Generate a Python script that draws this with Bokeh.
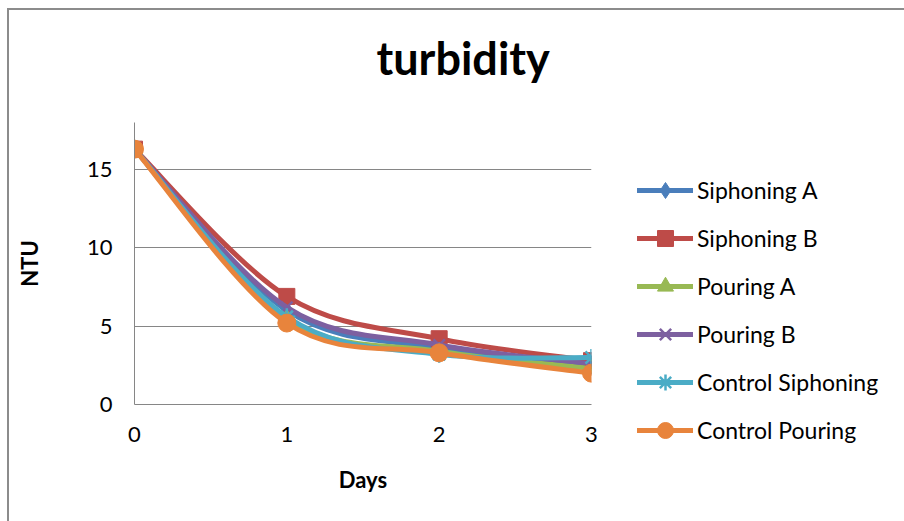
from bokeh.plotting import figure
from bokeh.models import Range1d, FixedTicker, Legend, LegendItem, ColumnDataSource, Title
from bokeh.embed import file_html
from bokeh.resources import INLINE

# Turbidity readings (NTU) over four days
days = [0, 1, 2, 3]
siphoning_a = [16.3, 6.0, 3.6, 2.5]
siphoning_b = [16.3, 6.9, 4.2, 2.8]
pouring_a = [16.3, 5.5, 3.4, 2.3]
pouring_b = [16.3, 6.2, 3.8, 2.6]
control_siphoning = [16.3, 5.6, 3.2, 3.0]
control_pouring = [16.3, 5.2, 3.3, 2.0]

series_names = ["Siphoning A", "Siphoning B", "Pouring A", "Pouring B",
                "Control Siphoning", "Control Pouring"]
series_values = [siphoning_a, siphoning_b, pouring_a, pouring_b,
                 control_siphoning, control_pouring]
colors = ["#4A7EBB", "#BE4B48", "#98B954", "#7D60A0", "#4BACC6", "#E8843C"]
markers = ["diamond", "square", "triangle", "x", "asterisk", "circle"]
marker_sizes = [18, 16, 16, 16, 17, 18]

y_ticks = [0, 5, 10, 15]
x_ticks = [0, 1, 2, 3]

FONT = "Lato"
GRAY = "#868686"


def smooth_segments(xs, ys, tension=1 / 6):
    """Cubic Bezier pieces (Catmull-Rom style) passing through each point."""
    n = len(xs)
    seg = dict(x0=[], y0=[], x1=[], y1=[], cx0=[], cy0=[], cx1=[], cy1=[])
    for i in range(n - 1):
        a = max(i - 1, 0)
        b = min(i + 2, n - 1)
        seg["x0"].append(xs[i])
        seg["y0"].append(ys[i])
        seg["x1"].append(xs[i + 1])
        seg["y1"].append(ys[i + 1])
        seg["cx0"].append(xs[i] + (xs[i + 1] - xs[a]) * tension)
        seg["cy0"].append(ys[i] + (ys[i + 1] - ys[a]) * tension)
        seg["cx1"].append(xs[i + 1] - (xs[b] - xs[i]) * tension)
        seg["cy1"].append(ys[i + 1] - (ys[b] - ys[i]) * tension)
    return seg


p = figure(frame_width=457, frame_height=282, output_backend="svg",
           toolbar_location=None,
           x_range=Range1d(0, 3), y_range=Range1d(0, 18),
           min_border_left=125, min_border_right=313,
           min_border_top=112, min_border_bottom=117)
# chart-area border on the left and top edges
p.styles = {"margin-left": "7px", "margin-top": "8px", "vertical-align": "top",
            "border-left": "2px solid #8c8c8c", "border-top": "2px solid #8c8c8c",
            "border-right": "none"}
p.outline_line_color = None
p.background_fill_color = "white"
p.border_fill_color = "white"

# spacer between the frame and the title, then the title itself
p.add_layout(Title(text=" ", text_font_size="1px", standoff=33), "above")
p.add_layout(Title(text="turbidity", text_font=FONT, text_font_size="45px",
                   text_font_style="bold", text_color="black",
                   align="left", offset=242, standoff=4), "above")

p.xgrid.visible = False
p.ygrid.grid_line_color = GRAY
p.ygrid.grid_line_width = 1
p.ygrid.ticker = FixedTicker(ticks=y_ticks)

for ax in (p.xaxis[0], p.yaxis[0]):
    ax.axis_line_color = GRAY
    ax.axis_line_width = 1
    ax.major_tick_line_color = None
    ax.minor_tick_line_color = None
    ax.major_tick_out = 0
    ax.major_tick_in = 0
    ax.major_label_text_font = FONT
    ax.major_label_text_font_size = "22px"
    ax.major_label_text_color = "black"
    ax.axis_label_text_font = FONT
    ax.axis_label_text_font_size = "22px"
    ax.axis_label_text_font_style = "bold"
    ax.axis_label_text_color = "black"

p.xaxis.ticker = FixedTicker(ticks=x_ticks)
p.yaxis.ticker = FixedTicker(ticks=y_ticks)
p.xaxis.axis_label = "Days"
p.yaxis.axis_label = "NTU"
p.xaxis.major_label_standoff = 22
p.xaxis.axis_label_standoff = 21
p.yaxis.major_label_standoff = 22
p.yaxis.axis_label_standoff = 41

items = []
for name, vals, col, mk, ms in zip(series_names, series_values, colors,
                                   markers, marker_sizes):
    src = ColumnDataSource(smooth_segments(days, vals))
    curve = p.bezier(x0="x0", y0="y0", x1="x1", y1="y1",
                     cx0="cx0", cy0="cy0", cx1="cx1", cy1="cy1",
                     source=src, line_color=col, line_width=5,
                     line_cap="round")
    pts = p.scatter(days, vals, marker=mk, size=ms, fill_color=col,
                    line_color=col,
                    line_width=2.5 if mk in ("x", "asterisk") else 1)
    items.append(LegendItem(label=name, renderers=[curve, pts]))

legend = Legend(items=items, location=(46, -46), orientation="vertical",
                glyph_width=56, glyph_height=40, label_height=40,
                spacing=8, padding=0, margin=0, label_standoff=4,
                label_text_font=FONT, label_text_font_size="23px",
                label_text_color="black", border_line_color=None,
                background_fill_alpha=0)
p.add_layout(legend, "right")

open("out.html", "w").write(file_html(p, INLINE))
